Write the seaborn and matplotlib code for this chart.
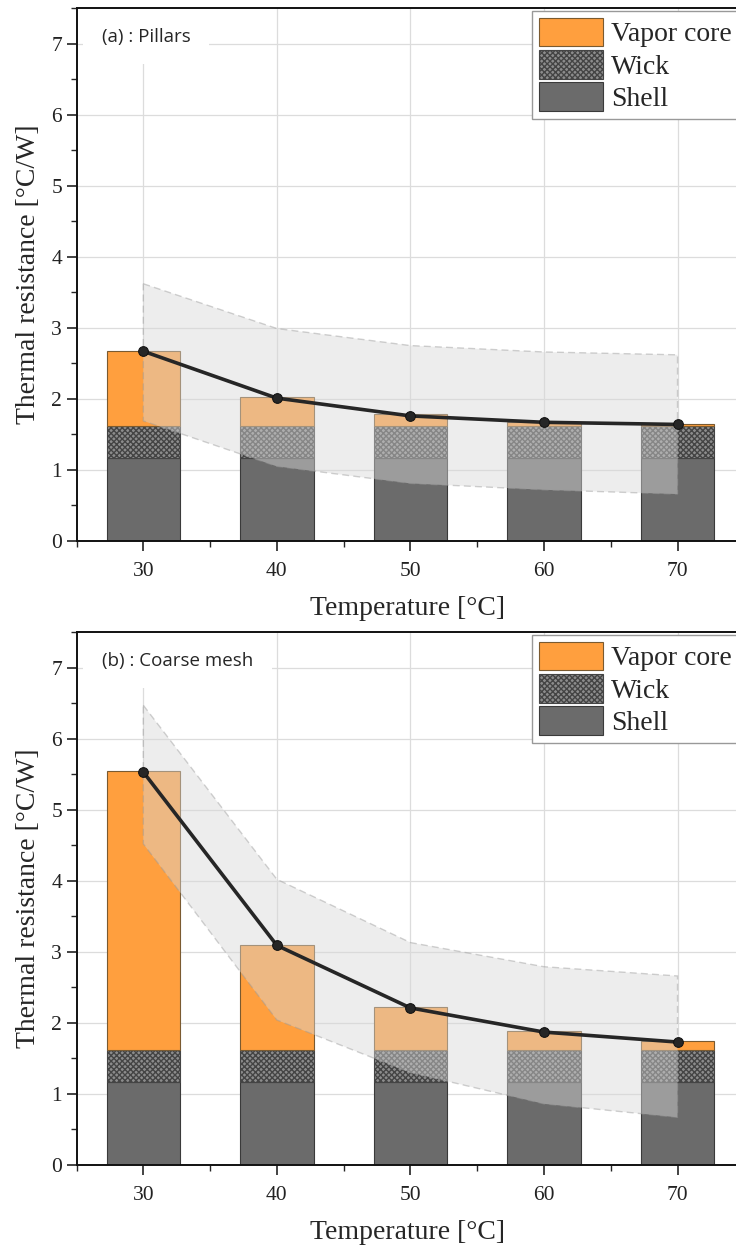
import numpy as np
import matplotlib
matplotlib.use("Agg")
import matplotlib.pyplot as plt
from matplotlib.ticker import MultipleLocator
import seaborn as sb
import pandas as pd

temps = [30, 40, 50, 60, 70]

shell = [1.17, 1.17, 1.17, 1.17, 1.17]
wick = [0.45, 0.45, 0.45, 0.45, 0.45]
vapor_a = [1.06, 0.40, 0.16, 0.06, 0.03]
vapor_b = [3.92, 1.48, 0.60, 0.26, 0.12]

total_a = [2.67, 2.01, 1.76, 1.67, 1.64]
total_b = [5.53, 3.09, 2.21, 1.87, 1.73]

upper_a = [3.62, 2.99, 2.75, 2.66, 2.62]
lower_a = [1.69, 1.05, 0.81, 0.72, 0.66]
upper_b = [6.47, 4.02, 3.13, 2.79, 2.66]
lower_b = [4.52, 2.04, 1.30, 0.86, 0.67]

labels = ["(a) : Pillars", "(b) : Coarse mesh"]

sb.set_style("ticks")
plt.rcParams["font.family"] = ["Liberation Serif", "DejaVu Serif"]
plt.rcParams["hatch.linewidth"] = 1.0

C_VAP = "#ff9f3e"
C_WICK = "#8c8c8c"
C_SHELL = "#6b6b6b"


def panel(ax, vapor, total, upper, lower, titlu):
    x = np.array(temps, dtype=float)
    s = np.array(shell)
    w = np.array(wick)
    v = np.array(vapor)

    ax.set_axisbelow(True)
    ax.grid(True, color="#dcdcdc", linewidth=0.9)

    ax.bar(x, s, width=5.5, color=C_SHELL, edgecolor="#3a3a3a", linewidth=0.8, zorder=2, label="Shell")
    ax.bar(x, w, width=5.5, bottom=s, color=C_WICK, edgecolor="#444444", hatch="xxxxxx",
           linewidth=0.8, zorder=2, label="Wick")
    ax.bar(x, v, width=5.5, bottom=s + w, color=C_VAP, edgecolor="#7a5a30", linewidth=0.8,
           zorder=2, label="Vapor core")

    # uncertainty band
    px = np.concatenate([x, x[::-1]])
    py = np.concatenate([np.array(upper), np.array(lower)[::-1]])
    ax.fill(px, py, facecolor="#d8d8d8", alpha=0.45, edgecolor="#9a9a9a",
            linestyle=(0, (5, 3)), linewidth=1.0, zorder=3)

    df = pd.DataFrame({"T": temps, "R": total})
    sb.lineplot(data=df, x="T", y="R", ax=ax, color="#262626", linewidth=2.6,
                marker="o", markersize=7, markeredgecolor="#111111", zorder=4)

    ax.set_xlim(25, 74.6)
    ax.set_ylim(0, 7.5)
    ax.set_xticks(temps)
    ax.xaxis.set_minor_locator(MultipleLocator(5))
    ax.yaxis.set_major_locator(MultipleLocator(1))
    ax.yaxis.set_minor_locator(MultipleLocator(0.5))
    ax.tick_params(axis="both", which="major", direction="out", length=7, width=1.2,
                   labelsize=15.5, colors="#222222")
    ax.tick_params(axis="both", which="minor", direction="out", length=4, width=1.0)
    ax.tick_params(axis="x", pad=8)
    for sp in ["left", "bottom", "top"]:
        ax.spines[sp].set_linewidth(1.4)
        ax.spines[sp].set_color("#111111")
    ax.spines["right"].set_visible(False)

    ax.set_xlabel("Temperature [°C]", fontsize=20, labelpad=11)
    ax.set_ylabel("Thermal resistance [°C/W]", fontsize=20, labelpad=7)

    ax.text(26.9, 7.1, titlu, fontsize=13.5, family=["Open Sans", "DejaVu Sans"],
            va="center", ha="left", zorder=5,
            bbox=dict(boxstyle="square,pad=1.0", facecolor="white", edgecolor="none"))

    h, l = ax.get_legend_handles_labels()
    order = [l.index("Vapor core"), l.index("Wick"), l.index("Shell")]
    leg = ax.legend([h[i] for i in order], [l[i] for i in order], loc="upper right",
                    bbox_to_anchor=(1.0, 0.995), fontsize=20, handlelength=2.3,
                    handleheight=1.2, labelspacing=0.1, handletextpad=0.3,
                    borderpad=0.25, borderaxespad=0.0, fancybox=False, framealpha=1)
    leg.get_frame().set_edgecolor("#999999")
    leg.get_frame().set_linewidth(1.0)
    leg.set_zorder(6)


fig = plt.figure(figsize=(7.36, 12.45), dpi=100)
ax1 = fig.add_axes([0.104, 0.5655, 0.9, 0.428])
ax2 = fig.add_axes([0.104, 0.0643, 0.9, 0.428])

panel(ax1, vapor_a, total_a, upper_a, lower_a, labels[0])
panel(ax2, vapor_b, total_b, upper_b, lower_b, labels[1])

fig.savefig("out.png", dpi=100)
